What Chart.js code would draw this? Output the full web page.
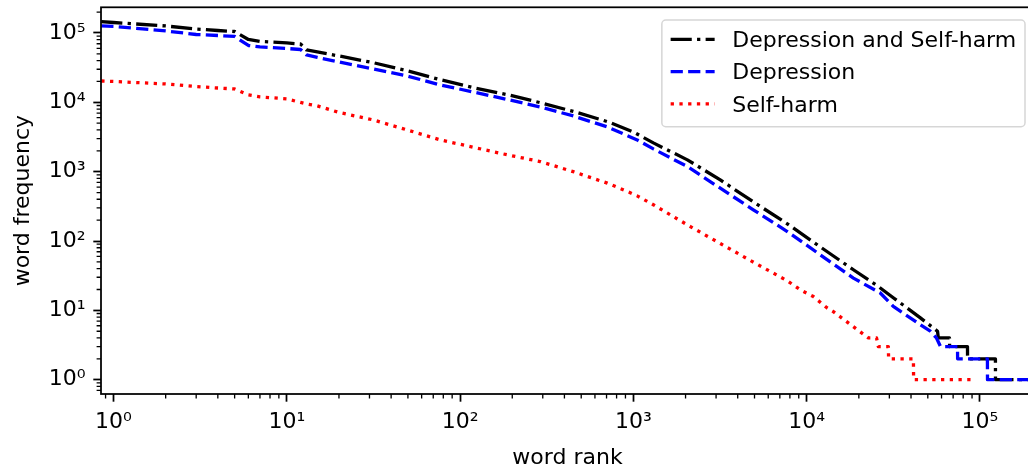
<!DOCTYPE html>
<html><head><meta charset="utf-8">
<script src="https://cdn.jsdelivr.net/npm/chart.js@4.4.1/dist/chart.umd.min.js"></script>
<style>html,body{margin:0;padding:0;background:#fff;overflow:hidden;width:1028px;height:469px}#wrap{position:relative;width:1028px;height:469px;overflow:hidden}canvas{display:block}</style>
</head><body><div id="wrap"><canvas id="c" width="1034" height="469"></canvas></div>
<script>
// ---- data ----
const seriesLabels = ['Depression and Self-harm', 'Depression', 'Self-harm'];

const bothRank = [0.85, 1, 2, 3, 4, 5, 6, 7, 10, 12, 13, 15, 20, 32, 50, 78, 122, 190, 294, 462, 716, 1000, 1304, 2049, 3173, 4920, 7730, 12000, 18600, 25600, 31600, 45300, 56900, 57500, 66700, 66800, 84700, 84800, 122800, 122900, 205000];
const bothFreq = [145500, 141600, 126200, 114200, 108600, 105100, 80600, 75500, 71800, 69400, 56900, 53200, 46600, 37000, 28300, 21000, 16100, 12800, 9800, 7270, 5220, 3740, 2600, 1480, 762, 367, 177, 82, 38.5, 22.6, 15.2, 7.8, 5, 4, 4, 3, 3, 2, 2, 1, 1];

const depRank = [0.85, 1, 2, 3, 4, 5, 6, 7, 10, 12, 13, 15, 20, 31.5, 49.5, 77, 119, 187, 290, 450, 707, 1052, 1304, 2049, 3173, 4920, 7730, 12000, 18600, 26600, 31600, 45300, 51700, 56100, 59200, 74200, 74300, 110400, 110500, 205000];
const depFreq = [126200, 124100, 106900, 95100, 92000, 89100, 66000, 62900, 59800, 57800, 48200, 44400, 38200, 30300, 24000, 17800, 14100, 11000, 8580, 6360, 4420, 2870, 2130, 1185, 578, 282, 137, 63, 29.2, 17.8, 11.4, 6.2, 5, 4, 3, 3, 2, 2, 1, 1];

const selfRank = [0.85, 1, 2, 3, 4, 5, 6, 7, 10, 12, 13, 15, 20, 31.5, 49.5, 77, 119, 187, 290, 450, 707, 898, 1052, 1304, 2049, 3173, 5000, 7730, 9190, 10930, 13150, 14250, 19630, 22700, 25300, 25900, 29600, 29700, 41300, 41400, 90600];
const selfFreq = [20300, 20000, 18400, 16900, 16100, 15600, 12800, 12000, 11200, 9970, 9480, 8880, 7150, 5580, 4000, 2870, 2250, 1750, 1400, 1000, 683, 534, 448, 333, 171, 92, 48.5, 26.7, 19.8, 15.8, 10.8, 9.6, 5.25, 4, 4, 3, 3, 2, 2, 1, 1];

const xTickValues = [1, 10, 100, 1000, 10000, 100000];
const yTickValues = [1, 10, 100, 1000, 10000, 100000];
const xRange = [0.847, 205000];
const yRange = [0.622, 234600];

// ---- styling ----
const PT = 2.2;               // px per point
const LW = 1.5 * PT;          // matplotlib default line width
const FONT = "'DejaVu Sans', 'Liberation Sans', sans-serif";
const FS = 22;
const SUP = {'0':'\u2070','1':'\u00B9','2':'\u00B2','3':'\u00B3','4':'\u2074','5':'\u2075','6':'\u2076'};
function powLabel(v){ const e = Math.round(Math.log10(v)); return '10' + String(e).split('').map(c=>SUP[c]||c).join(''); }
const toPts = (xs, ys) => xs.map((x,i)=>({x:x, y:ys[i]}));

const styles = [
  {color:'#000000', dash:[6.4*LW, 1.6*LW, 1*LW, 1.6*LW]},
  {color:'#0000ff', dash:[3.7*LW, 1.6*LW]},
  {color:'#ff0000', dash:[1*LW, 1.65*LW]}
];

const mplPlugin = {
  id: 'mplDecor',
  afterDatasetsDraw(chart){
    const ctx = chart.ctx, ca = chart.chartArea;
    const xs = chart.scales.x, ys = chart.scales.y;
    ctx.save();
    // minor ticks
    ctx.strokeStyle = '#000'; ctx.lineWidth = 0.6*PT; ctx.setLineDash([]);
    const minorLen = 2*PT;
    ctx.beginPath();
    for (let k=-1;k<=6;k++){
      for (let m=2;m<=9;m++){
        const v = m*Math.pow(10,k);
        if (v>xs.min && v<xs.max){ const p = xs.getPixelForValue(v); ctx.moveTo(p, ca.bottom); ctx.lineTo(p, ca.bottom+minorLen); }
        if (v>ys.min && v<ys.max){ const p = ys.getPixelForValue(v); ctx.moveTo(ca.left, p); ctx.lineTo(ca.left-minorLen, p); }
      }
    }
    ctx.stroke();
    // spines
    ctx.lineWidth = 0.8*PT; ctx.strokeStyle = '#000';
    ctx.strokeRect(ca.left, ca.top, ca.right-ca.left, ca.bottom-ca.top);
    // legend
    ctx.font = FS + 'px ' + FONT;
    const textW = Math.max(...seriesLabels.map(t=>ctx.measureText(t).width));
    const pad = 0.4*FS, hl = 2*FS, htp = 0.8*FS;
    const w = pad + hl + htp + textW + pad;
    const right = ca.right - 9, top = ca.top + 12.7;
    const left = right - w, h = 106.7;
    const r = 4;
    ctx.beginPath();
    ctx.moveTo(left+r, top); ctx.lineTo(right-r, top); ctx.arcTo(right, top, right, top+r, r);
    ctx.lineTo(right, top+h-r); ctx.arcTo(right, top+h, right-r, top+h, r);
    ctx.lineTo(left+r, top+h); ctx.arcTo(left, top+h, left, top+h-r, r);
    ctx.lineTo(left, top+r); ctx.arcTo(left, top, left+r, top, r);
    ctx.closePath();
    ctx.fillStyle = 'rgba(255,255,255,0.8)'; ctx.fill();
    ctx.lineWidth = 1.5; ctx.strokeStyle = 'rgba(204,204,204,0.8)'; ctx.stroke();
    seriesLabels.forEach((lab,i)=>{
      const cy = top + 19.3 + i*32.3;
      ctx.beginPath(); ctx.setLineDash(styles[i].dash); ctx.lineDashOffset = 0;
      ctx.strokeStyle = styles[i].color; ctx.lineWidth = LW; ctx.lineCap = 'butt';
      ctx.moveTo(left+pad, cy); ctx.lineTo(left+pad+hl, cy); ctx.stroke();
      ctx.setLineDash([]);
      ctx.fillStyle = '#000'; ctx.textBaseline = 'alphabetic'; ctx.textAlign = 'left';
      ctx.fillText(lab, left+pad+hl+htp, cy + 7.6);
    });
    ctx.restore();
  }
};

const datasets = [
  {label: seriesLabels[0], data: toPts(bothRank, bothFreq), order: 3},
  {label: seriesLabels[1], data: toPts(depRank, depFreq), order: 2},
  {label: seriesLabels[2], data: toPts(selfRank, selfFreq), order: 1}
].map((d,i)=>Object.assign(d, {
  borderColor: styles[i].color, borderDash: styles[i].dash, borderWidth: LW,
  borderCapStyle: 'butt', borderJoinStyle: 'round', pointRadius: 0, pointHoverRadius: 0,
  tension: 0, fill: false
}));

function axis(opts){
  return Object.assign({
    type: 'logarithmic', bounds: 'data',
    grid: {drawOnChartArea: false, drawTicks: true, tickLength: 3.5*PT, tickWidth: 0.8*PT, tickColor: '#000'},
    border: {display: false},
    ticks: {font: {family: FONT, size: FS}, color: '#000', padding: 3.5*PT, autoSkip: false, maxRotation: 0, minRotation: 0, callback: v => powLabel(v)}
  }, opts);
}
function noPad(s){ s.paddingTop = 0; s.paddingBottom = 0; s.paddingLeft = 0; s.paddingRight = 0; }

new Chart(document.getElementById('c'), {
  type: 'line',
  data: {datasets},
  options: {
    responsive: false, animation: false, devicePixelRatio: 1,
    layout: {padding: {left: 0, right: 0, top: 7.3, bottom: 0}},
    plugins: {legend: {display: false}, tooltip: {enabled: false}},
    events: [],
    scales: {
      x: axis({
        position: 'bottom', min: xRange[0], max: xRange[1],
        afterBuildTicks: s => { s.ticks = xTickValues.map(v=>({value: v, major: true})); },
        afterFit: s => { s.height = 75; noPad(s); },
        title: {display: true, text: 'word rank', color: '#000', font: {family: FONT, size: FS, lineHeight: 1}, padding: {top: 0, bottom: 0}}
      }),
      y: axis({
        position: 'left', min: yRange[0], max: yRange[1],
        afterBuildTicks: s => { s.ticks = yTickValues.map(v=>({value: v, major: true})); },
        afterFit: s => { s.width = 101; noPad(s); },
        title: {display: true, text: 'word frequency', color: '#000', font: {family: FONT, size: FS, lineHeight: 1}, padding: {top: 12, bottom: 0}}
      })
    }
  },
  plugins: [mplPlugin]
});
</script></body></html>
